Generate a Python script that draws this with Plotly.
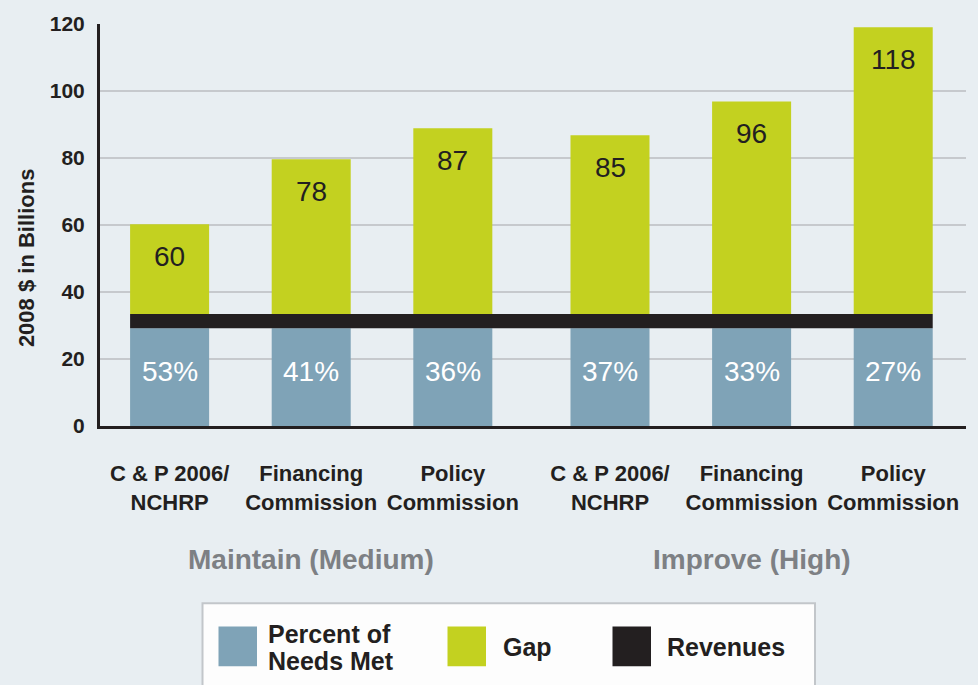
import plotly.graph_objects as go

# ---------------- data ----------------
scenario_labels = ["C & P 2006/<br>NCHRP", "Financing<br>Commission", "Policy<br>Commission",
                   "C & P 2006/<br>NCHRP", "Financing<br>Commission", "Policy<br>Commission"]
scenario_group = [0, 0, 0, 1, 1, 1]
group_names = ["Maintain (Medium)", "Improve (High)"]
needs_total = [60.2, 79.6, 88.9, 86.8, 96.9, 119.0]      # drawn bar tops (2008 $ billions)
needs_label = [60, 78, 87, 85, 96, 118]                   # printed totals
percent_met = [53, 41, 36, 37, 33, 27]                    # percent of needs met
revenue_low = 29.2
revenue_high = 33.4
y_ticks = [0, 20, 40, 60, 80, 100, 120]
legend_names = [["Percent of", "Needs Met"], ["Gap"], ["Revenues"]]

# ---------------- style ----------------
BG = "#e8eef2"
BLUE = "#7fa3b7"
GREEN = "#c3d120"
BLACK = "#231f20"
FONT = "Liberation Sans, Arial, Helvetica, sans-serif"
BAR_W = 0.558
GROUP_GAP = 0.11

x_pos = [i + GROUP_GAP * g for i, g in enumerate(scenario_group)]

fig = go.Figure()
fig.add_trace(go.Bar(
    x=x_pos, y=[revenue_low] * len(x_pos), width=BAR_W,
    marker=dict(color=BLUE, line=dict(width=0)), name="Percent of Needs Met",
    hoverinfo="skip"))
fig.add_trace(go.Bar(
    x=x_pos, y=[t - revenue_high for t in needs_total], base=[revenue_high] * len(x_pos),
    width=BAR_W, marker=dict(color=GREEN, line=dict(width=0)), name="Gap",
    hoverinfo="skip"))

# revenues band across all bars
fig.add_shape(type="rect", xref="x", yref="y",
              x0=x_pos[0] - BAR_W / 2, x1=x_pos[-1] + BAR_W / 2,
              y0=revenue_low, y1=revenue_high,
              fillcolor=BLACK, line=dict(width=0), layer="above")

annotations = []
for x, top, lab, pct in zip(x_pos, needs_total, needs_label, percent_met):
    annotations.append(dict(x=x, y=top, xref="x", yref="y", text=str(lab),
                            showarrow=False, yanchor="middle", yshift=-32,
                            font=dict(family=FONT, size=28, color=BLACK)))
    annotations.append(dict(x=x, y=revenue_low / 2, xref="x", yref="y", text=f"{pct}%",
                            showarrow=False, yanchor="middle", yshift=6,
                            font=dict(family=FONT, size=28, color="white")))

# group labels
for g, gname in enumerate(group_names):
    xs = [x for x, gg in zip(x_pos, scenario_group) if gg == g]
    annotations.append(dict(x=sum(xs) / len(xs), y=-0.331, xref="x", yref="paper",
                            text=f"<b>{gname}</b>", showarrow=False, yanchor="middle",
                            font=dict(family=FONT, size=28, color="#7d8084")))

# y-axis title
annotations.append(dict(x=-0.0855, y=0.42, xref="paper", yref="paper",
                        text="<b>2008 $ in Billions</b>", textangle=-90, showarrow=False,
                        xanchor="center", yanchor="middle",
                        font=dict(family=FONT, size=22, color=BLACK)))

# ---------------- manual legend ----------------
PLOT_L, PLOT_W, PLOT_B, PLOT_H = 100, 866, 426, 405
def px_x(p):
    return (p - PLOT_L) / PLOT_W
def px_y(p):
    return (PLOT_B - p) / PLOT_H

shapes = [dict(type="rect", xref="paper", yref="paper",
               x0=px_x(202.5), x1=px_x(815), y0=px_y(720), y1=px_y(604.5),
               fillcolor="#fdfdfd", line=dict(color="#c2c6ca", width=2), layer="below")]
leg_colors = [BLUE, GREEN, BLACK]
leg_square_left = [218.5, 447.5, 612.5]
leg_text_left = [266, 501, 665]
for col, sx, tx, lines in zip(leg_colors, leg_square_left, leg_text_left, legend_names):
    shapes.append(dict(type="rect", xref="paper", yref="paper",
                       x0=px_x(sx), x1=px_x(sx + 38.5), y0=px_y(668), y1=px_y(628),
                       fillcolor=col, line=dict(width=0)))
    n = len(lines)
    for k, line in enumerate(lines):
        cy = 649 + (k - (n - 1) / 2) * 27
        annotations.append(dict(x=px_x(tx), y=px_y(cy), xref="paper", yref="paper",
                                text=f"<b>{line}</b>", showarrow=False, xanchor="left",
                                yanchor="middle", align="left",
                                font=dict(family=FONT, size=25, color=BLACK)))

for s in shapes:
    fig.add_shape(**s)

fig.update_layout(
    width=978, height=685,
    margin=dict(l=PLOT_L, r=978 - PLOT_L - PLOT_W, t=PLOT_B - PLOT_H, b=685 - PLOT_B, pad=0),
    paper_bgcolor=BG, plot_bgcolor=BG,
    barmode="overlay", showlegend=False,
    annotations=annotations,
    font=dict(family=FONT, color=BLACK),
    xaxis=dict(range=[-0.4915, 5.624], tickmode="array", tickvals=x_pos,
               ticktext=[f"<b>{t}</b>" for t in scenario_labels],
               tickfont=dict(family=FONT, size=22, color=BLACK),
               showgrid=False, zeroline=False, showline=True, linecolor=BLACK,
               linewidth=3, ticks="", ticklabelstandoff=26, layer="below traces",
               fixedrange=True),
    yaxis=dict(range=[0, 120], tickmode="array", tickvals=y_ticks,
               ticktext=[f"<b>{v}</b>" for v in y_ticks],
               tickfont=dict(family=FONT, size=21, color=BLACK),
               showgrid=True, gridcolor="#c6c9cd", gridwidth=1.5,
               zeroline=False, showline=True, linecolor=BLACK, linewidth=3,
               ticks="", ticklabelstandoff=8, layer="below traces",
               fixedrange=True),
)

fig.write_html(
    "out.html",
    config={"displayModeBar": False},
    post_script=("document.body.style.margin='0';"
                 "document.body.style.background='" + BG + "';"
                 "document.documentElement.style.overflow='hidden';"),
)
